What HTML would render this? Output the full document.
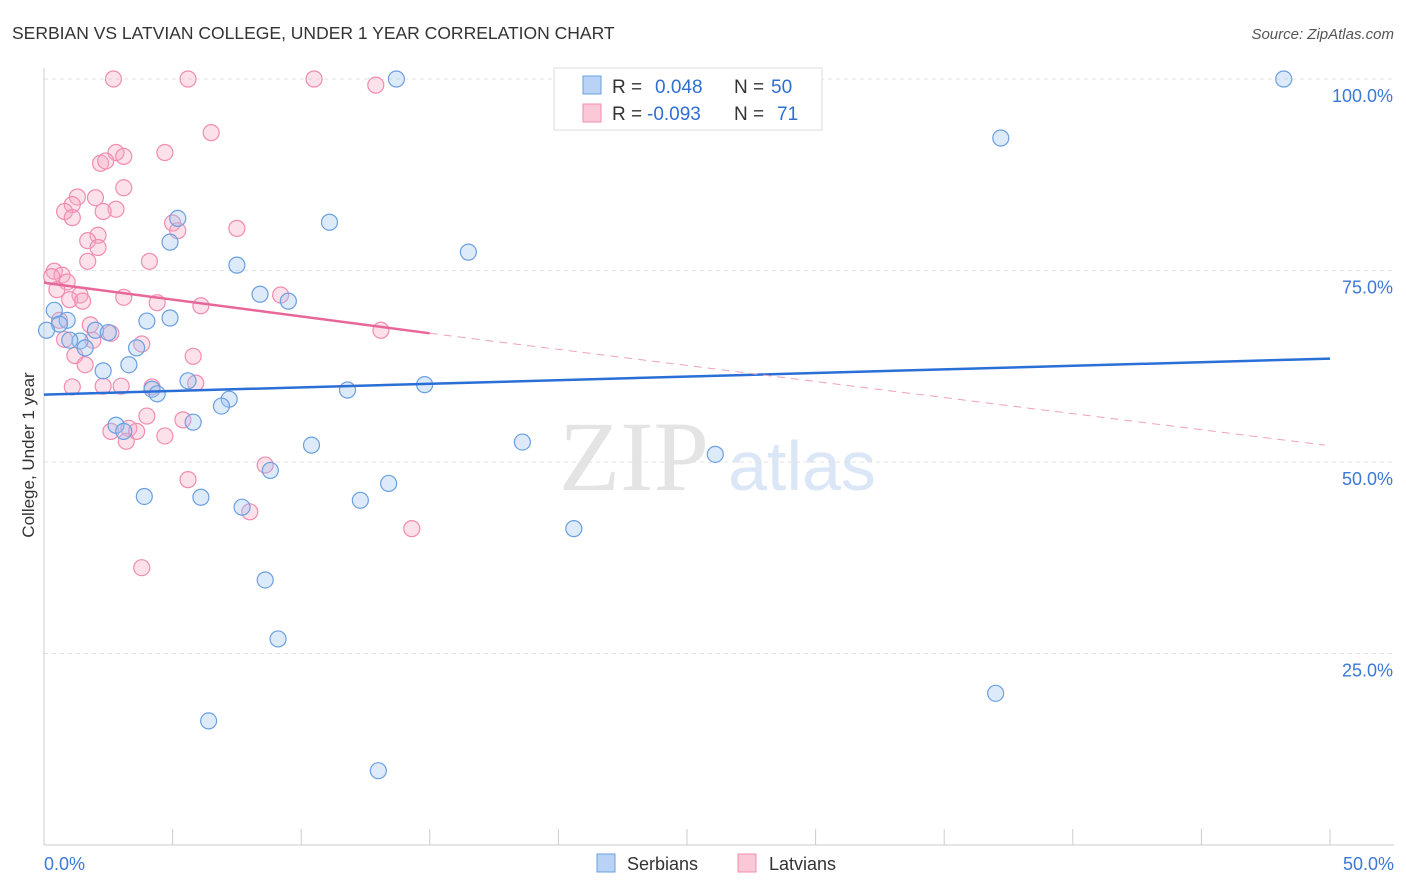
<!DOCTYPE html>
<html><head><meta charset="utf-8"><style>
body{margin:0;background:#fff;font-family:"Liberation Sans",sans-serif;}
#wrap{position:relative;width:1406px;height:892px;overflow:hidden;}
</style></head><body>
<div id="wrap">
<svg id="svg" width="1406" height="892" xmlns="http://www.w3.org/2000/svg">
<text x="12" y="39" font-size="17.5" fill="#333">SERBIAN VS LATVIAN COLLEGE, UNDER 1 YEAR CORRELATION CHART</text>
<text x="1394" y="39" font-size="15" fill="#555" font-style="italic" text-anchor="end">Source: ZipAtlas.com</text>
<text x="634" y="490" font-size="100" fill="#e4e4e4" font-family="Liberation Serif" text-anchor="middle">ZIP</text>
<text x="802" y="490" font-size="70" fill="#dbe7f6" text-anchor="middle">atlas</text>
<g id="grid"></g><g id="pts"></g><g id="trends"></g>
<text transform="translate(34,455) rotate(-90)" font-size="17" fill="#333" text-anchor="middle">College, Under 1 year</text>
<g>
<rect x="554" y="68" width="268" height="62" fill="#fff" stroke="#ddd"/>
<rect x="583" y="76" width="18" height="18" fill="#b8d3f5" stroke="#6aa0e0"/>
<text x="612" y="93" font-size="19" fill="#333">R =</text><text x="655" y="93" font-size="19" fill="#2f6fd0">0.048</text>
<text x="734" y="93" font-size="19" fill="#333">N =</text><text x="771" y="93" font-size="19" fill="#2f6fd0">50</text>
<rect x="583" y="104" width="18" height="18" fill="#fbc8d8" stroke="#f08cb0"/>
<text x="612" y="120" font-size="19" fill="#333">R =</text><text x="647" y="120" font-size="19" fill="#2f6fd0">-0.093</text>
<text x="734" y="120" font-size="19" fill="#333">N =</text><text x="777" y="120" font-size="19" fill="#2f6fd0">71</text>
</g>
<g>
<rect x="597" y="854" width="18" height="18" fill="#b8d3f5" stroke="#6aa0e0"/>
<text x="627" y="870" font-size="18" fill="#333">Serbians</text>
<rect x="738" y="854" width="18" height="18" fill="#fbc8d8" stroke="#f08cb0"/>
<text x="769" y="870" font-size="18" fill="#333">Latvians</text>
</g>
<text x="44" y="870" font-size="18" fill="#3b78d8">0.0%</text>
<text x="1394" y="870" font-size="18" fill="#3b78d8" text-anchor="end">50.0%</text>
</svg></div>
<script>
const yTicks=[100,75,50,25];
const yTickLabels=["100.0%","75.0%","50.0%","25.0%"];
const serbX=[13.7,48.2,37.2,5.2,11.1,4.9,16.5,7.5,8.4,9.5,0.4,0.9,0.6,4.0,4.9,2.0,2.5,1.4,1.6,3.6,3.3,2.3,5.6,14.8,4.2,4.4,11.8,7.2,6.9,5.8,2.8,3.1,10.4,18.6,26.1,8.8,13.4,3.9,6.1,12.3,7.7,20.6,8.6,9.1,37.0,6.4,13.0,0.1,1.0];
const serbY=[100,100,92.3,81.8,81.3,78.7,77.4,75.7,71.9,71.0,69.8,68.5,68.0,68.4,68.8,67.2,66.9,65.8,64.9,64.9,62.7,61.9,60.6,60.1,59.5,58.9,59.4,58.2,57.3,55.2,54.8,54.0,52.2,52.6,51.0,48.9,47.2,45.5,45.4,45.0,44.1,41.3,34.6,26.9,19.8,16.2,9.7,67.2,65.9];
const latX=[2.7,5.6,10.5,12.9,6.5,4.7,2.8,3.1,2.2,2.4,3.1,1.3,2.0,1.1,0.8,2.8,2.3,1.1,5.0,7.5,5.2,2.1,1.7,2.1,1.7,4.1,0.4,0.7,0.3,0.9,0.5,1.4,3.1,1.0,4.4,1.5,6.1,9.2,0.6,1.8,2.6,3.8,1.9,1.2,5.8,1.6,2.3,3.0,1.1,4.2,5.9,4.0,5.4,3.3,2.6,3.6,4.7,3.2,8.6,5.6,8.0,14.3,3.8,13.1,0.8];
const latY=[100,100,100,99.2,93.0,90.4,90.4,89.9,89.0,89.3,85.8,84.6,84.5,83.6,82.7,83.0,82.7,81.9,81.2,80.5,80.2,79.6,78.9,78.0,76.2,76.2,74.9,74.4,74.2,73.5,72.5,71.8,71.5,71.2,70.8,71.0,70.4,71.8,68.5,67.9,66.8,65.4,65.9,63.9,63.8,62.7,59.9,59.9,59.8,59.8,60.3,56.0,55.5,54.4,54.0,54.0,53.4,52.7,49.6,47.7,43.5,41.3,36.2,67.2,66.0];
const xTicks=[0,5,10,15,20,25,30,35,40,45,50];
const serbTrend=[[0,58.8],[50,63.5]];
const latTrendSolid=[[0,73.4],[15,66.8]];
const latTrendDash=[[15,66.8],[49.8,52.2]];
const NS="http://www.w3.org/2000/svg";
const X=v=>44+v*25.72, Y=v=>845-v*7.66;
function mk(tag,attrs,parent){const e=document.createElementNS(NS,tag);for(const k in attrs)e.setAttribute(k,attrs[k]);parent.appendChild(e);return e;}
const grid=document.getElementById('grid'),pts=document.getElementById('pts'),tr=document.getElementById('trends');
yTicks.forEach((t,i)=>{
 const l=mk('line',{x1:44,x2:1394,y1:Y(t),y2:Y(t),stroke:'#e2e2e2','stroke-dasharray':'4,4'},grid);
 
 
 const tx=mk('text',{x:1393,y:Y(t)+23,'font-size':18,fill:'#3b78d8','text-anchor':'end'},grid);
 tx.textContent=yTickLabels[i];
 
 
});
const ax=mk('line',{x1:44,x2:44,y1:68,y2:845,stroke:'#ccc'},grid);


const bx=mk('line',{x1:44,x2:1394,y1:845,y2:845,stroke:'#ccc'},grid);


xTicks.forEach(t=>{const l=mk('line',{x1:X(t),x2:X(t),y1:829,y2:845,stroke:'#ccc'},grid);
 
 });
function dots(xs,ys,fill,stroke,name){xs.forEach((x,i)=>{const c=mk('circle',{cx:X(x),cy:Y(ys[i]),r:8,fill:fill,'fill-opacity':0.35,stroke:stroke,'stroke-width':1.2},pts);
 
 });}
dots(latX,latY,'#f7a8c4','#f08cb0','latvian-point');
dots(serbX,serbY,'#9cc2f0','#6aa0e0','serbian-point');
function line(p,stroke,w,dash,name){const l=mk('line',{x1:X(p[0][0]),y1:Y(p[0][1]),x2:X(p[1][0]),y2:Y(p[1][1]),stroke:stroke,'stroke-width':w},tr);if(dash)l.setAttribute('stroke-dasharray',dash);
 
 }
line(serbTrend,'#2a6fd6',2.5,null,'serbian-trendline');
line(latTrendSolid,'#e8679a',2.5,null,'latvian-trendline');
line(latTrendDash,'#f0a0bd',1,'8,6','latvian-trendline-extension');
</script>
</body></html>
